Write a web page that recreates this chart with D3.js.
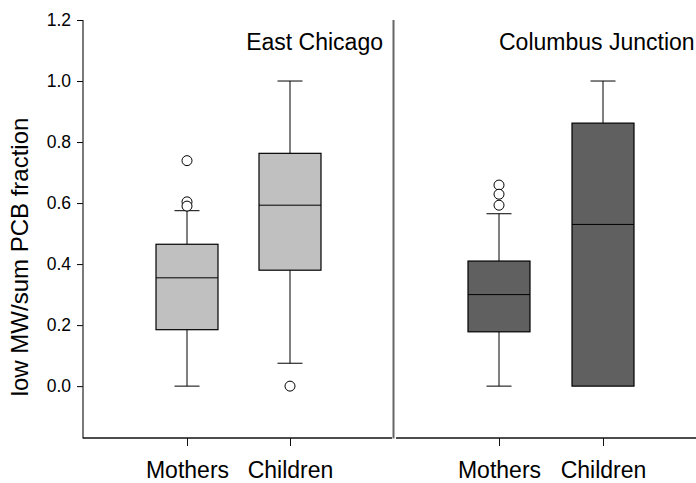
<!DOCTYPE html>
<html><head><meta charset="utf-8">
<script src="https://cdn.jsdelivr.net/npm/d3@7"></script>
<style>body{margin:0;background:#fff;} svg{display:block;font-family:"Liberation Sans",Arial,sans-serif;}</style>
</head><body>
<svg id="c" width="696" height="483"></svg>
<script>
const panels = ["East Chicago", "Columbus Junction"];
const groups = ["Mothers", "Children"];
const yTicks = [0.0, 0.2, 0.4, 0.6, 0.8, 1.0, 1.2];
// per panel, per group: [whiskerLow, q1, median, q3, whiskerHigh]
const eastChicago = [[0.0, 0.185, 0.355, 0.465, 0.575], [0.075, 0.38, 0.593, 0.763, 1.0]];
const columbusJunction = [[0.0, 0.178, 0.30, 0.41, 0.565], [0.0, 0.0, 0.53, 0.862, 1.0]];
const eastChicagoOutliers = [[0.739, 0.604, 0.590], [0.0]];
const columbusJunctionOutliers = [[0.659, 0.629, 0.593], []];
const panelFill = ["#c0c0c0", "#606060"];

const stats = [eastChicago, columbusJunction];
const outliers = [eastChicagoOutliers, columbusJunctionOutliers];

const FONT = "Liberation Sans, Arial, sans-serif";
const svg = d3.select("#c");
const y = d3.scaleLinear().domain([-0.17, 1.2]).range([438, 20]);
const panelX = [[83, 393], [395, 705]];

// y axis
const yAxis = d3.axisLeft(y).tickValues(yTicks).tickFormat(d3.format(".1f")).tickSize(6).tickPadding(6);
const gy = svg.append("g").attr("transform", "translate(83,0)").call(yAxis)
  .attr("font-size", 17.5).attr("font-family", FONT);
gy.select(".domain").remove();
gy.selectAll("text").attr("fill", "#000");
gy.selectAll("line").attr("stroke", "#000");
svg.append("line").attr("x1", 83).attr("x2", 83).attr("y1", y(1.2)).attr("y2", 438.5).attr("stroke", "#222").attr("stroke-width", 1.2);

svg.append("text").attr("transform", "translate(28,257) rotate(-90)")
  .attr("text-anchor", "middle").attr("font-size", 24).text("low MW/sum PCB fraction");

panels.forEach((pname, pi) => {
  const [x0, x1] = panelX[pi];
  const centers = pi === 0 ? [187, 290] : [499, 603];
  const x = d3.scaleOrdinal().domain(groups).range(centers);
  const g = svg.append("g");
  // bottom axis
  g.append("line").attr("x1", x0 + (pi ? 1 : 0)).attr("x2", pi ? 696 : x1 - 1).attr("y1", 438).attr("y2", 438)
    .attr("stroke", "#111").attr("stroke-width", 1.5);
  const xa = d3.axisBottom(x).tickSize(8).tickPadding(16);
  const gx = g.append("g").attr("transform", "translate(0,438)").call(xa)
    .attr("font-size", 23).attr("font-family", FONT);
  gx.select(".domain").remove();
  gx.selectAll("line").attr("stroke", "#111");
  gx.selectAll("text").attr("fill", "#000");

  const bw = 62, cw = 25;
  groups.forEach((gname, gi) => {
    const [lo, q1, med, q3, hi] = stats[pi][gi];
    const cx = x(gname);
    if (hi > q3) {
      g.append("line").attr("x1", cx).attr("x2", cx).attr("y1", y(q3)).attr("y2", y(hi)).attr("stroke", "#000");
      g.append("line").attr("x1", cx - cw / 2).attr("x2", cx + cw / 2).attr("y1", y(hi)).attr("y2", y(hi)).attr("stroke", "#000");
    }
    if (lo < q1) {
      g.append("line").attr("x1", cx).attr("x2", cx).attr("y1", y(q1)).attr("y2", y(lo)).attr("stroke", "#000");
      g.append("line").attr("x1", cx - cw / 2).attr("x2", cx + cw / 2).attr("y1", y(lo)).attr("y2", y(lo)).attr("stroke", "#000");
    }
    g.append("rect").attr("x", cx - bw / 2).attr("width", bw).attr("y", y(q3)).attr("height", y(q1) - y(q3))
      .attr("fill", panelFill[pi]).attr("stroke", "#000").attr("stroke-width", 1.2);
    g.append("line").attr("x1", cx - bw / 2).attr("x2", cx + bw / 2).attr("y1", y(med)).attr("y2", y(med)).attr("stroke", "#000");
    outliers[pi][gi].forEach(v => {
      g.append("circle").attr("cx", cx).attr("cy", y(v)).attr("r", 5).attr("fill", "#fff").attr("stroke", "#000").attr("stroke-width", 1);
    });
  });

  if (pi === 0) {
    g.append("text").attr("x", 383).attr("y", 50).attr("text-anchor", "end").attr("font-size", 23).text(pname);
  } else {
    g.append("text").attr("x", 499).attr("y", 50).attr("text-anchor", "start").attr("font-size", 23).text(pname);
  }
});
// panel divider
svg.append("line").attr("x1", 393.5).attr("x2", 393.5).attr("y1", y(1.2)).attr("y2", 438.5).attr("stroke", "#666").attr("stroke-width", 2);
</script>
</body></html>
